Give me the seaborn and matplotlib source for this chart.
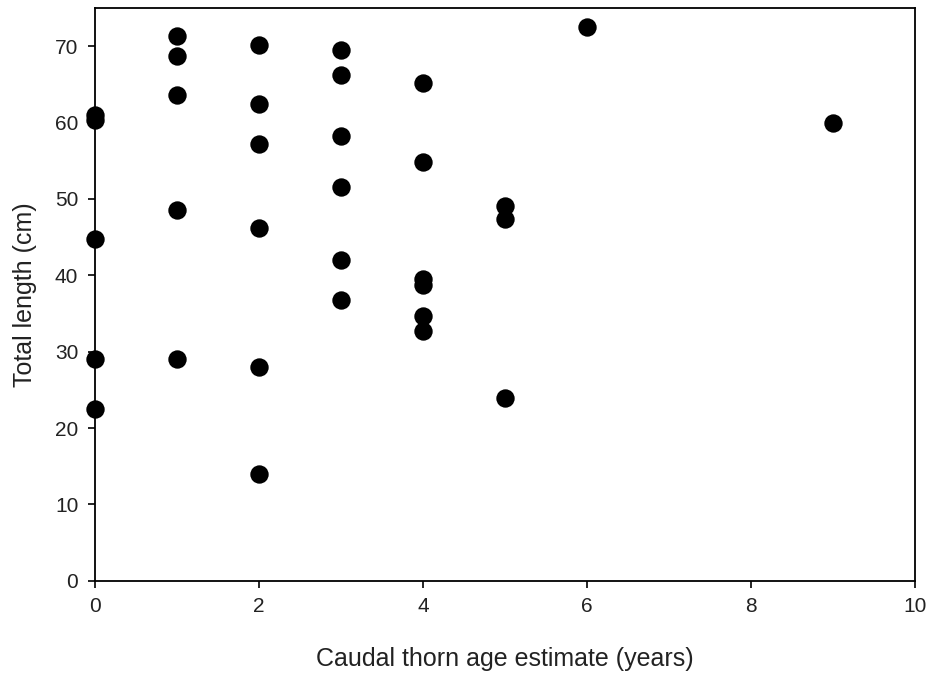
import pandas as pd
import matplotlib
matplotlib.use("Agg")
import matplotlib.pyplot as plt
import seaborn as sns

## data
age = [0, 0, 0, 0, 0,
       1, 1, 1, 1, 1,
       2, 2, 2, 2, 2, 2,
       3, 3, 3, 3, 3, 3,
       4, 4, 4, 4, 4, 4,
       5, 5, 5,
       6, 9]
length = [61.0, 60.4, 44.7, 29.0, 22.5,
          71.4, 68.7, 63.6, 48.5, 29.0,
          70.2, 62.5, 57.2, 46.2, 28.0, 14.0,
          69.5, 66.3, 58.2, 51.6, 42.0, 36.8,
          65.2, 54.8, 39.5, 38.8, 34.7, 32.7,
          49.1, 47.4, 24.0,
          72.5, 60.0]

df = pd.DataFrame({"age": age, "length": length})

sns.set_style("ticks")
plt.rcParams['font.family'] = ['Liberation Sans', 'DejaVu Sans']

fig = plt.figure(figsize=(9.31, 6.73), dpi=100)
ax = fig.add_axes([0.102, 0.137, 0.881, 0.851])
sns.scatterplot(data=df, x="age", y="length", ax=ax, color="black",
                s=175, edgecolor="black", linewidth=0, clip_on=False, zorder=3)

ax.set_xlim(0, 10)
ax.set_ylim(0, 75)
ax.set_xticks([0, 2, 4, 6, 8, 10])
ax.set_yticks([0, 10, 20, 30, 40, 50, 60, 70])
ax.tick_params(direction="out", length=5, width=1.2, labelsize=15,
               colors="black", labelcolor="#222222")
ax.tick_params(axis="x", pad=7)
ax.tick_params(axis="y", pad=7)
for sp in ax.spines.values():
    sp.set_linewidth(1.3)
    sp.set_color("black")
ax.set_xlabel("Caudal thorn age estimate (years)", size=18, labelpad=22, color="#222222")
ax.set_ylabel("Total length (cm)", size=18, labelpad=13, color="#222222")

fig.savefig("out.png", dpi=100)
